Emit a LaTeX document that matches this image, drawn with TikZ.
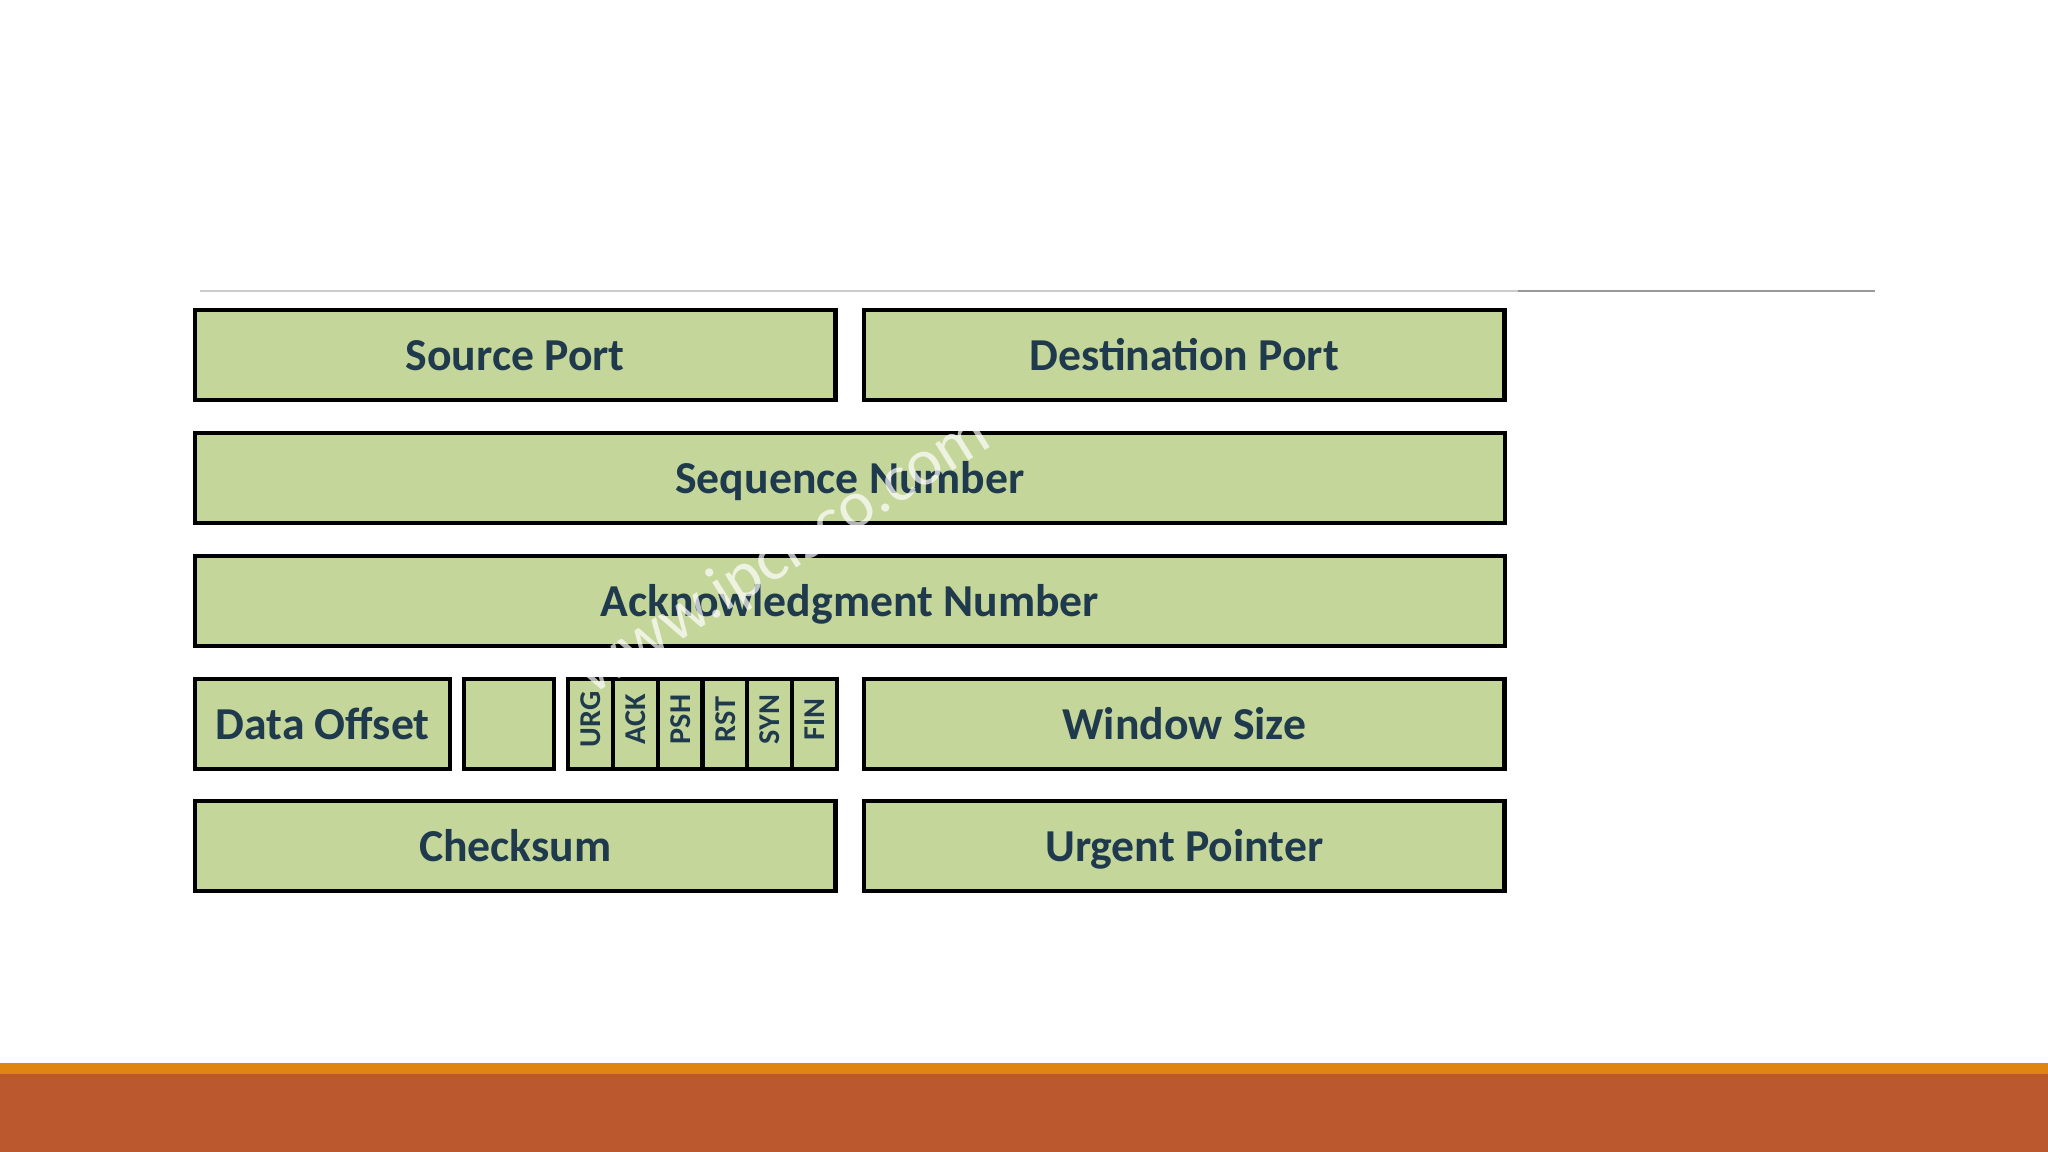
\documentclass[tikz,border=0pt]{standalone}
\usepackage{fontspec}
\setmainfont{Carlito}
\definecolor{boxfill}{HTML}{C5D69B}
\definecolor{txt}{HTML}{1F3A4D}
\definecolor{stripe}{HTML}{E08512}
\definecolor{rust}{HTML}{BB582D}
\begin{document}
\begin{tikzpicture}[x=0.01cm,y=-0.01cm,
  fieldbox/.style={draw=black,line width=1.2pt,fill=boxfill,anchor=north west,
    inner sep=0pt,minimum height=0.9cm},
  flagbox/.style={fieldbox,minimum width=0.448cm},
  lbl/.style={text=txt,inner sep=0pt,text height=8.6pt,text depth=0pt,font=\fontsize{13}{15}\selectfont\bfseries},
  flbl/.style={text=txt,inner sep=0pt,rotate=90,text height=5.8pt,text depth=0pt,font=\fontsize{8.6}{10}\selectfont\bfseries}]
\useasboundingbox[fill=white] (0,0) rectangle (2048,1152);
% top rule
\draw[line width=0.4pt,black!20] (200,291) -- (1518,291);
\draw[line width=0.6pt,black!40] (1518,291) -- (1875,291);
% bottom band
\fill[rust] (0,1074) rectangle (2048,1152);
\fill[stripe] (0,1063) rectangle (2048,1074);
% fields
\node[fieldbox,minimum width=6.4cm] (src) at (193,308) {};
\node[lbl] at (src.center) {Source Port};
\node[fieldbox,minimum width=6.4cm] (dst) at (862,308) {};
\node[lbl] at (dst.center) {Destination Port};
\node[fieldbox,minimum width=13.09cm] (seq) at (193,431) {};
\node[lbl] at (seq.center) {Sequence Number};
\node[fieldbox,minimum width=13.09cm] (ack) at (193,554) {};
\node[lbl] at (ack.center) {Acknowledgment Number};
\node[fieldbox,minimum width=2.55cm] (off) at (193,677) {};
\node[lbl] at (off.center) {Data Offset};
\node[fieldbox,minimum width=0.9cm] (res) at (462,677) {};
\node[flagbox] (furg) at (566,677) {};
\node[flagbox] (fack) at (610.8,677) {};
\node[flagbox] (fpsh) at (655.6,677) {};
\node[flagbox] (frst) at (700.4,677) {};
\node[flagbox] (fsyn) at (745.2,677) {};
\node[flagbox] (ffin) at (790,677) {};
\foreach \n/\t in {furg/URG,fack/ACK,fpsh/PSH,frst/RST,fsyn/SYN,ffin/FIN}
  \node[flbl] at ([yshift=0.045cm]\n.center) {\t};
\node[fieldbox,minimum width=6.4cm] (win) at (862,677) {};
\node[lbl] at (win.center) {Window Size};
\node[fieldbox,minimum width=6.4cm] (chk) at (193,799) {};
\node[lbl] at (chk.center) {Checksum};
\node[fieldbox,minimum width=6.4cm] (upt) at (862,799) {};
\node[lbl] at (upt.center) {Urgent Pointer};
% watermark
\node[rotate=32,text=white,text opacity=0.7,font=\fontsize{19}{22}\selectfont] (wm) at (784,555) {www.ipcisco.com};
\end{tikzpicture}
\end{document}
